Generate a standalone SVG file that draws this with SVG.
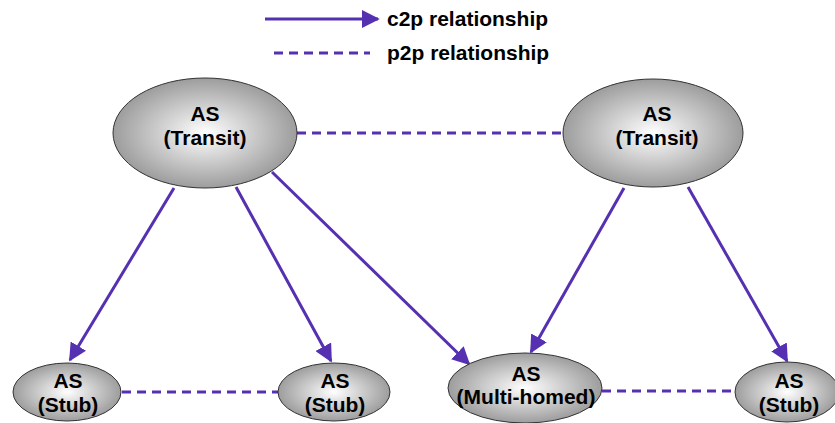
<svg xmlns="http://www.w3.org/2000/svg" width="835" height="423" viewBox="0 0 835 423">
  <defs>
    <radialGradient id="nodeFill" cx="50%" cy="50%" r="55%">
      <stop offset="0%" stop-color="#ffffff"/>
      <stop offset="100%" stop-color="#939393"/>
    </radialGradient>
    <marker id="head" viewBox="0 0 10 10" refX="9" refY="5" markerWidth="6" markerHeight="6" orient="auto" markerUnits="strokeWidth">
      <path d="M0,0 L10,5 L0,10 z" fill="#5530b0"/>
    </marker>
  </defs>
  <style>
    .node { fill: url(#nodeFill); stroke: #333; stroke-width: 1; }
    .lbl { font-family: "Liberation Sans", Arial, sans-serif; font-weight: bold; font-size: 21px; fill: #000; text-anchor: middle; }
    .leg { font-family: "Liberation Sans", Arial, sans-serif; font-weight: bold; font-size: 21px; fill: #000; }
    .c2p { stroke: #5530b0; stroke-width: 3; fill: none; marker-end: url(#head); }
    .p2p { stroke: #5530b0; stroke-width: 3; fill: none; stroke-dasharray: 9 6; }
  </style>

  <!-- legend -->
  <g id="legend">
    <line class="c2p" x1="265" y1="19" x2="378" y2="19"/>
    <text class="leg" x="387" y="26">c2p relationship</text>
    <line class="p2p" x1="274" y1="53" x2="370" y2="53"/>
    <text class="leg" x="387" y="60">p2p relationship</text>
  </g>

  <!-- connectors -->
  <g id="connectors">
    <line class="p2p" x1="297" y1="133" x2="563" y2="133"/>
    <line class="p2p" x1="122" y1="392" x2="279" y2="392"/>
    <line class="p2p" x1="602" y1="391" x2="735" y2="391"/>
    <line class="c2p" x1="174" y1="188" x2="70" y2="360"/>
    <line class="c2p" x1="236" y1="187" x2="331" y2="361"/>
    <line class="c2p" x1="272" y1="172" x2="469" y2="364"/>
    <line class="c2p" x1="624" y1="188" x2="531" y2="352"/>
    <line class="c2p" x1="688" y1="187" x2="787" y2="361"/>
  </g>

  <!-- nodes -->
  <g id="transit-left">
    <ellipse class="node" cx="205" cy="133" rx="92" ry="55"/>
    <text class="lbl" x="205" y="121">AS</text>
    <text class="lbl" x="205" y="145">(Transit)</text>
  </g>
  <g id="transit-right">
    <ellipse class="node" cx="653" cy="133" rx="90" ry="54"/>
    <text class="lbl" x="657" y="121">AS</text>
    <text class="lbl" x="657" y="145">(Transit)</text>
  </g>
  <g id="stub-1">
    <ellipse class="node" cx="67" cy="392" rx="54" ry="29"/>
    <text class="lbl" x="68" y="388">AS</text>
    <text class="lbl" x="68" y="412">(Stub)</text>
  </g>
  <g id="stub-2">
    <ellipse class="node" cx="334" cy="392" rx="56" ry="29"/>
    <text class="lbl" x="335" y="388">AS</text>
    <text class="lbl" x="335" y="412">(Stub)</text>
  </g>
  <g id="multi-homed">
    <ellipse class="node" cx="525" cy="388" rx="77" ry="35"/>
    <text class="lbl" x="526" y="381">AS</text>
    <text class="lbl" x="526" y="404">(Multi-homed)</text>
  </g>
  <g id="stub-3">
    <ellipse class="node" cx="787" cy="392" rx="52" ry="30"/>
    <text class="lbl" x="789" y="388">AS</text>
    <text class="lbl" x="789" y="412">(Stub)</text>
  </g>
</svg>
